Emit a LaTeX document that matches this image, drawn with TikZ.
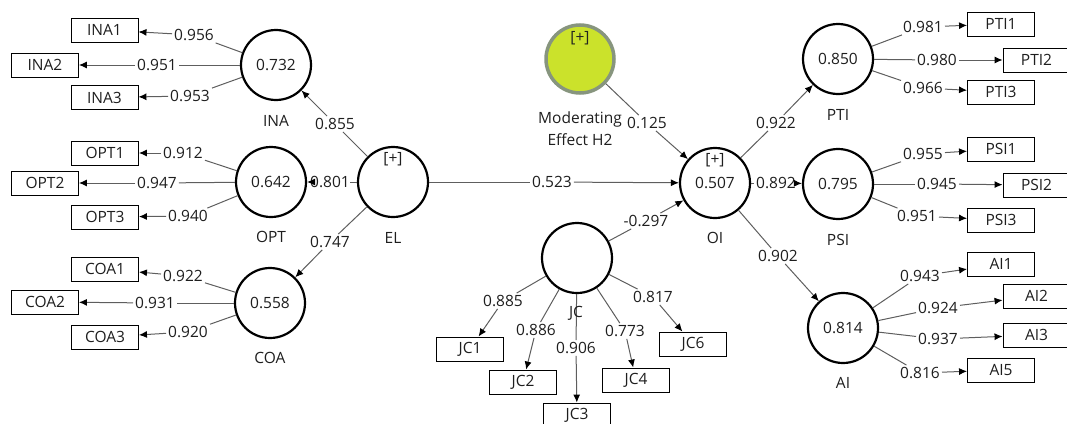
\documentclass[tikz,border=0pt]{standalone}
\usepackage{fontspec}
\setmainfont{Open Sans}
\usetikzlibrary{arrows.meta}
\definecolor{txt}{HTML}{1E1E1E}
\definecolor{ln}{HTML}{5E5E5E}
\definecolor{modfill}{HTML}{CBE22B}
\definecolor{modedge}{HTML}{87957E}
\tikzset{
  lv/.style={circle, draw=black, line width=2.2pt, minimum size=70pt, inner sep=0pt},
  modlv/.style={circle, draw=modedge, fill=modfill, line width=3.5pt, minimum size=68pt, inner sep=0pt},
  ind/.style={draw=black, line width=0.9pt, minimum width=67pt, minimum height=24pt, inner sep=0pt},
  val/.style={inner sep=2pt},
  lnk/.style={draw=ln, line width=1pt},
  arr/.style={lnk, -{Latex[length=8pt,width=7pt,color=black]}},
}
\begin{document}
\begin{tikzpicture}[x=1pt,y=-1pt,font=\fontsize{15.5}{18}\selectfont,text=txt]
\useasboundingbox (0,0) rectangle (1067,423);
% latent variables
\node[lv] (INA) at (276,65) {0.732};
\node[lv] (OPT) at (271,182) {0.642};
\node[lv] (COA) at (270,303) {0.558};
\node[lv] (EL) at (393,182) {};
\node (ELp) at (393,159) {[+]};
\node[lv] (OI) at (715,183) {0.507};
\node (OIp) at (715,160) {[+]};
\node[lv] (JC) at (577,258) {};
\node[modlv] (MOD) at (580,59) {};
\node[text=black!75!modedge] (MODp) at (580,38) {[+]};
\node[lv] (PTI) at (838,59) {0.850};
\node[lv] (PSI) at (838,184) {0.795};
\node[lv] (AI) at (843,328) {0.814};
% LV names
\node (INAt) at (276,121) {INA};
\node (OPTt) at (271,237) {OPT};
\node (COAt) at (270,358) {COA};
\node (ELt) at (393,238) {EL};
\node (OIt) at (715,238) {OI};
\node (PTIt) at (838,115) {PTI};
\node (PSIt) at (838,240) {PSI};
\node (AIt) at (843,383) {AI};
\node[align=center,font=\fontsize{15.5}{22}\selectfont] (MODt) at (580,129) {Moderating\\Effect H2};
% indicators
\node[ind] (INA1) at (104.5,30) {INA1};
\node[ind] (INA2) at (45,65) {INA2};
\node[ind] (INA3) at (104.5,97.5) {INA3};
\node[ind] (OPT1) at (105,153) {OPT1};
\node[ind] (OPT2) at (45,183) {OPT2};
\node[ind] (OPT3) at (105,217) {OPT3};
\node[ind] (COA1) at (105,269) {COA1};
\node[ind] (COA2) at (45,302) {COA2};
\node[ind] (COA3) at (105,337) {COA3};
\node[ind] (JC1) at (470,349) {JC1};
\node[ind] (JC2) at (523,382) {JC2};
\node[ind] (JC3) at (577,415) {JC3};
\node[ind] (JC4) at (636,380) {JC4};
\node[ind] (JC6) at (693,344) {JC6};
\node[ind] (PTI1) at (1001,24) {PTI1};
\node[ind] (PTI2) at (1036.5,60) {PTI2};
\node[ind] (PTI3) at (1001,92) {PTI3};
\node[ind] (PSI1) at (1001,149) {PSI1};
\node[ind] (PSI2) at (1036.5,185) {PSI2};
\node[ind] (PSI3) at (1001,220) {PSI3};
\node[ind] (AI1) at (1001,264) {AI1};
\node[ind] (AI2) at (1036.5,296) {AI2};
\node[ind] (AI3) at (1036.5,335) {AI3};
\node[ind] (AI5) at (1001,370) {AI5};
% values
\node[val] (vINA1) at (194,35) {0.956};
\node[val] (vINA2) at (157,65) {0.951};
\node[val] (vINA3) at (190,96) {0.953};
\node[val] (vOPT1) at (183,153) {0.912};
\node[val] (vOPT2) at (157,183) {0.947};
\node[val] (vOPT3) at (188,216) {0.940};
\node[val] (vCOA1) at (183,276) {0.922};
\node[val] (vCOA2) at (155,303) {0.931};
\node[val] (vCOA3) at (188,332) {0.920};
\node[val] (vINA) at (335,124) {0.855};
\node[val,inner sep=0.5pt] (vOPT) at (330,182) {0.801};
\node[val] (vCOA) at (330,242) {0.747};
\node[val] (vOI) at (552,182) {0.523};
\node[val] (vMOD) at (647,123) {0.125};
\node[val] (vJC) at (646,221) {-0.297};
\node[val] (vJC1) at (503,301) {0.885};
\node[val] (vJC2) at (536,330) {0.886};
\node[val] (vJC3) at (576,348) {0.906};
\node[val] (vJC4) at (625,331) {0.773};
\node[val] (vJC6) at (653,297) {0.817};
\node[val] (vPTI) at (776,123) {0.922};
\node[val] (vPSI) at (776,183) {0.892};
\node[val] (vAI) at (778,256) {0.902};
\node[val] (vPTI1) at (923,27) {0.981};
\node[val] (vPTI2) at (937,60) {0.980};
\node[val] (vPTI3) at (923,88) {0.966};
\node[val] (vPSI1) at (923,154) {0.955};
\node[val] (vPSI2) at (937,184) {0.945};
\node[val] (vPSI3) at (917,216) {0.951};
\node[val] (vAI1) at (920,276) {0.943};
\node[val] (vAI2) at (938,308) {0.924};
\node[val] (vAI3) at (938,339) {0.937};
\node[val] (vAI5) at (920,373) {0.816};
% outer model links (LV -> indicator)
\foreach \l/\i in {INA/INA1,INA/INA2,INA/INA3,OPT/OPT1,OPT/OPT2,OPT/OPT3,COA/COA1,COA/COA2,COA/COA3,
  JC/JC1,JC/JC2,JC/JC3,JC/JC4,JC/JC6,PTI/PTI1,PTI/PTI2,PTI/PTI3,PSI/PSI1,PSI/PSI2,PSI/PSI3,AI/AI1,AI/AI2,AI/AI3,AI/AI5}{
  \draw[lnk] (\l) -- (v\i);
  \draw[arr] (v\i) -- (\i);
}
% inner model links
\foreach \s/\v/\t in {EL/vINA/INA,EL/vOPT/OPT,EL/vCOA/COA,EL/vOI/OI,MOD/vMOD/OI,JC/vJC/OI,OI/vPTI/PTI,OI/vPSI/PSI,OI/vAI/AI}{
  \draw[lnk] (\s) -- (\v);
  \draw[arr] (\v) -- (\t);
}
\node (JCt) at (576,313) {JC};
\end{tikzpicture}
\end{document}
